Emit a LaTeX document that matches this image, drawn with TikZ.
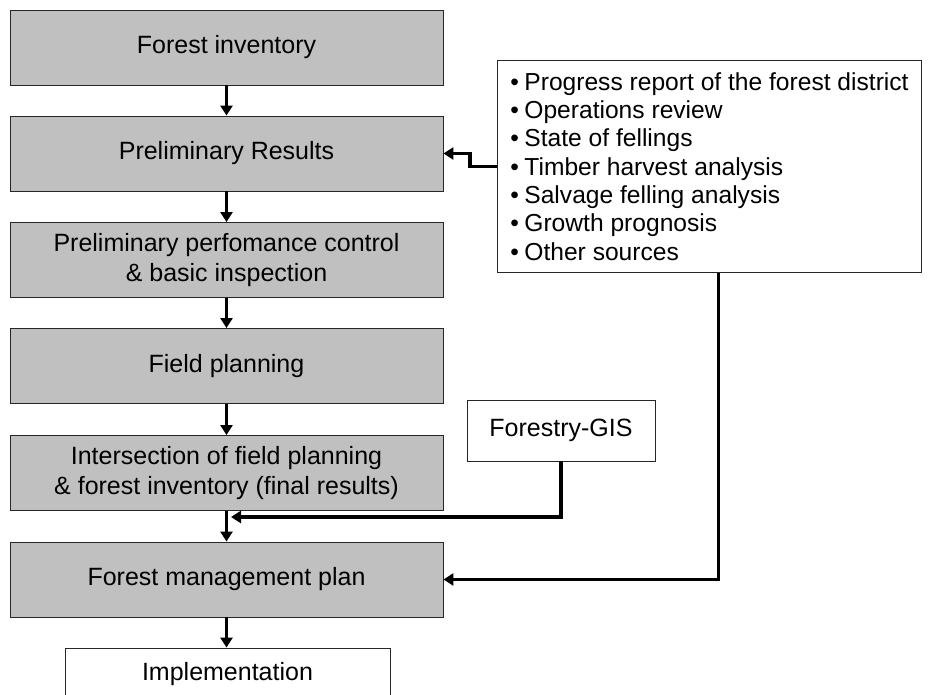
\documentclass[tikz,border=0pt]{standalone}
\usepackage{fontspec}
\setmainfont{Liberation Sans}
\usetikzlibrary{arrows.meta}
\definecolor{boxgray}{RGB}{192,192,192}
\newcommand{\bul}{•\kern5.5pt}
\begin{document}
\begin{tikzpicture}[x=1pt,y=-1pt,
  basebox/.style={draw=black!85,line width=0.9pt,inner sep=0pt,align=center,
    font=\fontsize{25}{30}\selectfont},
  graybox/.style={basebox,fill=boxgray,minimum width=433pt,minimum height=75pt},
  whitebox/.style={basebox,fill=white},
  flow/.style={line width=3.4pt,-{Triangle[width=12pt,length=10pt]}}]
\useasboundingbox (0,0) rectangle (931,695);
\clip (0,0) rectangle (931,695);
\node[graybox] (fi)  at (226.5,47.5)  {Forest inventory};
\node[graybox] (pr)  at (226.5,153.5) {Preliminary Results};
\node[graybox] (ppc) at (226.5,260)   {Preliminary perfomance control\\\& basic inspection};
\node[graybox] (fp)  at (226.5,366)   {Field planning};
\node[graybox] (isec) at (226.5,473)  {Intersection of field planning\\\& forest inventory (final results)};
\node[graybox] (fmp) at (226.5,579.5) {Forest management plan};
\node[whitebox,minimum width=325pt,minimum height=52pt] (impl) at (227.5,674) {Implementation};
\node[whitebox,minimum width=188pt,minimum height=61pt] (gis) at (561,430.5) {Forestry-GIS};
\node[whitebox,anchor=north west,minimum width=424pt,minimum height=212pt,
  align=left,inner sep=0pt,font=\fontsize{24.6}{28.3}\selectfont] (src) at (497,60)
  {\bul Progress report of the forest district\\
   \bul Operations review\\
   \bul State of fellings\\
   \bul Timber harvest analysis\\
   \bul Salvage felling analysis\\
   \bul Growth prognosis\\
   \bul Other sources};
\coordinate (j) at (231,517);
\draw[flow] (fi) -- (pr);
\draw[flow] (pr) -- (ppc);
\draw[flow] (ppc) -- (fp);
\draw[flow] (fp) -- (isec);
\draw[flow] (isec) -- (fmp);
\draw[flow] (fmp) -- (impl.north -| fmp.south);
\draw[flow] (gis.south) |- (j);
\draw[flow] (src.west) -- ++(-27,0) |- (pr.east);
\draw[flow] ([xshift=9pt]src.south) |- (fmp.east);
\end{tikzpicture}
\end{document}
